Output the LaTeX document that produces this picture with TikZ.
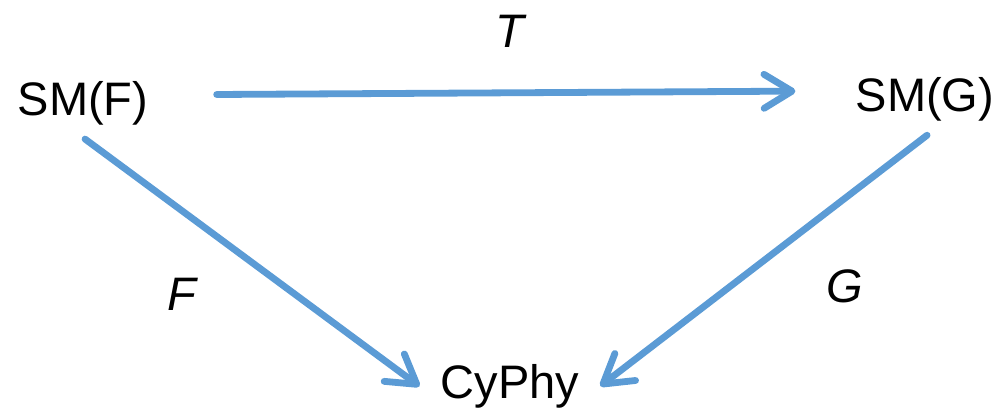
\documentclass[tikz,border=0pt]{standalone}
\usepackage{fontspec}
\setmainfont{Liberation Sans}
\usepackage{tikz}
\usetikzlibrary{arrows.meta}
\definecolor{arrblue}{RGB}{91,155,213}

\begin{document}
\begin{tikzpicture}[x=0.5pt, y=-0.5pt, every node/.style={font=\fontsize{23.5}{28}\selectfont},
  obj/.style={inner sep=4pt, anchor=base},
  lbl/.style={anchor=base, font=\fontsize{23.5}{28}\selectfont\itshape},
  arr/.style={draw=arrblue, line width=3.4pt, line cap=round, -{Straight Barb[length=14pt, width=17pt, round]}}]
\useasboundingbox (0,0) rectangle (1000,413);
\node[obj] (smf) at (83,115) {SM(F)};
\node[obj] (smg) at (925,111) {SM(G)};
\node[obj] (cyphy) at (510,398) {CyPhy};
\node[lbl] (lt) at (510,47) {T};
\node[lbl] (lf) at (182,310) {F};
\node[lbl] (lg) at (845,302) {G};
\draw[arr, shorten <=30pt, shorten >=26pt] ([yshift=4pt]smf.east) -- ([yshift=4pt]smg.west);
\draw[arr, shorten <=5pt, shorten >=8pt] ([xshift=-3pt]smf.south) -- ([yshift=-5pt]cyphy.west);
\draw[arr, shorten <=5pt, shorten >=8pt] ([xshift=5pt]smg.south) -- ([yshift=-5pt]cyphy.east);
\end{tikzpicture}
\end{document}
